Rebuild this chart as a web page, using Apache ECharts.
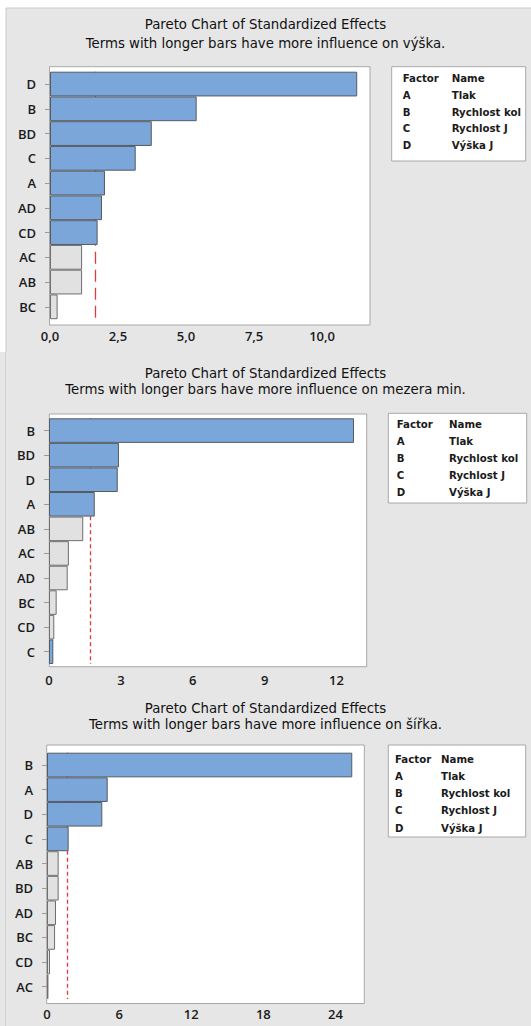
<!DOCTYPE html>
<html>
<head>
<meta charset="utf-8">
<script src="https://cdn.jsdelivr.net/npm/echarts@6/dist/echarts.min.js"></script>
<style>
html,body{margin:0;padding:0;background:#ffffff;}
#c{width:531px;height:1026px;}
</style>
</head>
<body>
<div id="c"></div>
<script>
// ---------- data ----------
const titleMain = 'Pareto Chart of Standardized Effects';
const subtitles = [
  'Terms with longer bars have more influence on výška.',
  'Terms with longer bars have more influence on mezera min.',
  'Terms with longer bars have more influence on šířka.'
];
const factors = ['A', 'B', 'C', 'D'];
const factorNames = ['Tlak', 'Rychlost kol', 'Rychlost J', 'Výška J'];

const terms1 = ['D', 'B', 'BD', 'C', 'A', 'AD', 'CD', 'AC', 'AB', 'BC'];
const effects1 = [11.29, 5.39, 3.74, 3.15, 2.02, 1.91, 1.75, 1.18, 1.18, 0.28];
const inModel1 = [true, true, true, true, true, true, true, false, false, false];
const ref1 = 1.68;

const terms2 = ['B', 'BD', 'D', 'A', 'AB', 'AC', 'AD', 'BC', 'CD', 'C'];
const effects2 = [12.73, 2.92, 2.87, 1.91, 1.43, 0.83, 0.78, 0.32, 0.22, 0.18];
const inModel2 = [true, true, true, true, false, false, false, false, false, true];
const ref2 = 1.71;

const terms3 = ['B', 'A', 'D', 'C', 'AB', 'BD', 'AD', 'BC', 'CD', 'AC'];
const effects3 = [25.4, 5.05, 4.6, 1.8, 0.97, 0.97, 0.75, 0.67, 0.25, 0.12];
const inModel3 = [true, true, true, true, false, false, false, false, false, false];
const ref3 = 1.72;

// ---------- layout / style ----------
const FONT = 'Open Sans';
const TFONT = 'DejaVu Sans';
const LFONT = 'DejaVu Sans';
const BLUE = '#7ba6d9';
const GRAY = '#e1e1e1';
const PANEL = '#e6e6e6';

const charts = [
  { terms: terms1, effects: effects1, inModel: inModel1, ref: ref1,
    grid: { left: 50, top: 71.7, width: 320, height: 247.5 },
    frame: { x: 49.5, y: 66.7, w: 320.5, h: 258.3 },
    max: 11.76, interval: 2.5, offset: 6, labelMargin: 4, dash: [12, 6],
    fmt: v => v.toFixed(1).replace('.', ','),
    t1: 16.7, t2: 35.8,
    legend: { x: 391.7, y: 66.7, w: 134, h: 94.3, fx: 402.7, nx: 451.7, r0: 78.3, dr: 16.85 } },
  { terms: terms2, effects: effects2, inModel: inModel2, ref: ref2,
    grid: { left: 49, top: 418.3, width: 317.7, height: 245.7 },
    frame: { x: 49.3, y: 414, w: 317.4, h: 252.7 },
    max: 13.26, interval: 3, offset: 3, labelMargin: 6, dash: [4, 3],
    fmt: v => String(v),
    t1: 365.3, t2: 381.3,
    legend: { x: 388.3, y: 413.3, w: 138.4, h: 89.7, fx: 396.7, nx: 449, r0: 424.3, dr: 17.1 } },
  { terms: terms3, effects: effects3, inModel: inModel3, ref: ref3,
    grid: { left: 47, top: 752.7, width: 317.3, height: 246.3 },
    frame: { x: 46.7, y: 745, w: 317.6, h: 258.5 },
    max: 26.4, interval: 6, offset: 4.5, labelMargin: 4, dash: [4, 3],
    fmt: v => String(v),
    t1: 700, t2: 716,
    legend: { x: 388.3, y: 745, w: 137.4, h: 92, fx: 395, nx: 441, r0: 759, dr: 17.3 } }
];

const grids = [], xAxes = [], yAxes = [], series = [], titles = [];
const graphics = [
  { type: 'rect', shape: { x: 6, y: 8, width: 530, height: 346 }, style: { fill: PANEL, stroke: '#cacaca', lineWidth: 1 }, z: -20 },
  { type: 'rect', shape: { x: 0, y: 352, width: 531, height: 674 }, style: { fill: PANEL }, z: -19 },
  { type: 'line', shape: { x1: 5.5, y1: 352, x2: 5.5, y2: 1026 }, style: { stroke: '#d2d2d2', lineWidth: 1 }, z: -18 }
];

charts.forEach((c, i) => {
  grids.push(Object.assign({ containLabel: false }, c.grid));
  xAxes.push({
    type: 'value', gridIndex: i, min: 0, max: c.max, interval: c.interval,
    offset: c.offset,
    axisLine: { show: false }, axisTick: { show: false }, splitLine: { show: false },
    axisLabel: { show: true, showMaxLabel: false, formatter: c.fmt, margin: c.labelMargin,
      color: '#1a1a1a', fontFamily: FONT, fontSize: 13, fontWeight: 600 }
  });
  yAxes.push({
    type: 'category', gridIndex: i, data: c.terms, inverse: true,
    axisLine: { show: false },
    axisTick: { show: true, alignWithLabel: true, length: 5, lineStyle: { color: '#9a9a9a' } },
    axisLabel: { color: '#1a1a1a', fontFamily: FONT, fontSize: 13, fontWeight: 600, margin: 14 }
  });
  series.push({
    type: 'bar', xAxisIndex: i, yAxisIndex: i, z: 3,
    barCategoryGap: '0%', animation: false, silent: true,
    data: c.effects.map((v, k) => ({
      value: v,
      itemStyle: { color: c.inModel[k] ? BLUE : GRAY, borderColor: c.inModel[k] ? '#555b63' : '#6e6e6e', borderWidth: 1 }
    }))
  });
  series.push({
    type: 'line', xAxisIndex: i, yAxisIndex: i, z: 1, data: [], animation: false, silent: true,
    markLine: {
      z: 1, silent: true, symbol: 'none', animation: false, label: { show: false },
      lineStyle: { color: '#e0393e', type: c.dash, width: 1.3 },
      data: [{ xAxis: c.ref }]
    }
  });
  titles.push({ text: titleMain, left: 'center', top: c.t1, padding: 0,
    textStyle: { fontFamily: TFONT, fontSize: 13.3, fontWeight: 'normal', color: '#111', lineHeight: 16 } });
  titles.push({ text: subtitles[i], left: 'center', top: c.t2, padding: 0,
    textStyle: { fontFamily: TFONT, fontSize: 13.3, fontWeight: 'normal', color: '#111', lineHeight: 16 } });

  // plot frame
  graphics.push({ type: 'rect', z: -5,
    shape: { x: c.frame.x, y: c.frame.y, width: c.frame.w, height: c.frame.h },
    style: { fill: '#ffffff', stroke: '#a8a8a8', lineWidth: 1 } });
  // legend box
  const L = c.legend;
  graphics.push({ type: 'rect', z: -5,
    shape: { x: L.x, y: L.y, width: L.w, height: L.h },
    style: { fill: '#ffffff', stroke: '#a8a8a8', lineWidth: 1 } });
  const ts = { fontFamily: LFONT, fontSize: 10.2, fontWeight: 'bold', fill: '#1a1a1a', textVerticalAlign: 'middle', verticalAlign: 'middle' };
  graphics.push({ type: 'text', z: 5, x: L.fx, y: L.r0, style: Object.assign({ text: 'Factor' }, ts) });
  graphics.push({ type: 'text', z: 5, x: L.nx, y: L.r0, style: Object.assign({ text: 'Name' }, ts) });
  factors.forEach((f, k) => {
    graphics.push({ type: 'text', z: 5, x: L.fx, y: L.r0 + L.dr * (k + 1), style: Object.assign({ text: f }, ts) });
    graphics.push({ type: 'text', z: 5, x: L.nx, y: L.r0 + L.dr * (k + 1), style: Object.assign({ text: factorNames[k] }, ts) });
  });
});

const chart = echarts.init(document.getElementById('c'), null, { renderer: 'svg' });
chart.setOption({
  backgroundColor: '#ffffff',
  animation: false,
  title: titles,
  grid: grids,
  xAxis: xAxes,
  yAxis: yAxes,
  series: series,
  graphic: { elements: graphics }
});
</script>
</body>
</html>
